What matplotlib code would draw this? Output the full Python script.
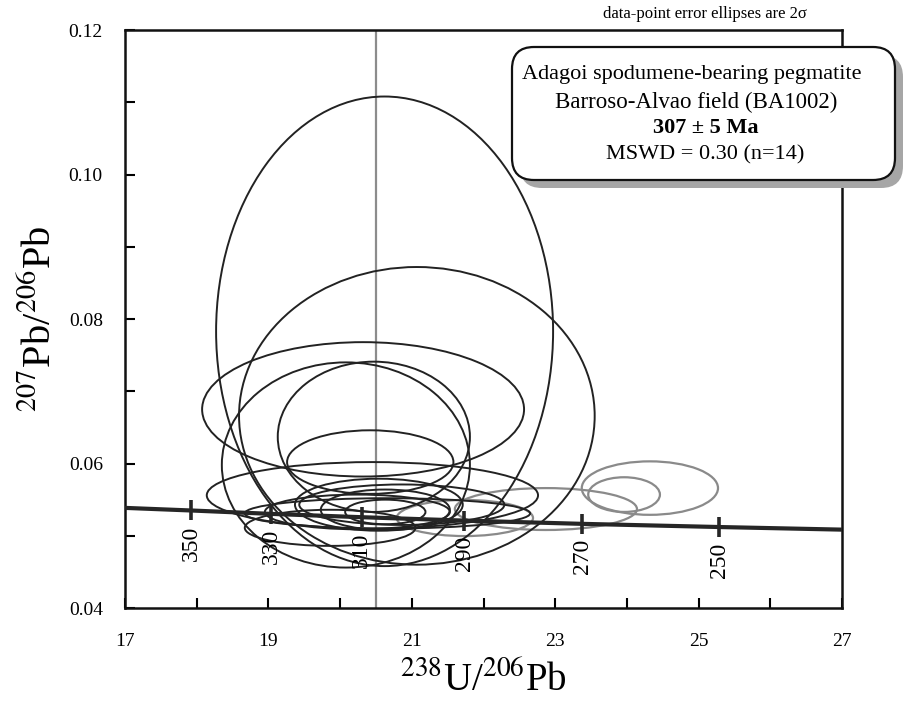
import numpy as np
import matplotlib
matplotlib.use("Agg")
from matplotlib import pyplot as plt
from matplotlib.patches import Ellipse, FancyBboxPatch
from matplotlib.transforms import IdentityTransform

plt.rcParams['font.family'] = ['Liberation Serif', 'DejaVu Serif']
plt.rcParams['mathtext.fontset'] = 'stix'

# error ellipses (centre x, centre y, half width, half height)
dark_cx = [20.62, 21.07, 20.32, 20.08, 20.47, 20.42, 20.45, 20.66, 20.54, 20.63, 20.63, 19.86, 20.86, 20.24]
dark_cy = [0.0783, 0.0666, 0.0675, 0.0598, 0.0637, 0.0602, 0.0556, 0.0531, 0.0543, 0.0536, 0.0533, 0.0511, 0.0543, 0.0533]
dark_hw = [2.35, 2.48, 2.245, 1.73, 1.34, 1.16, 2.31, 1.99, 1.17, 0.90, 0.56, 1.19, 1.43, 1.29]
dark_hh = [0.0325, 0.0206, 0.0093, 0.0142, 0.0104, 0.0044, 0.0046, 0.0021, 0.0036, 0.0028, 0.0017, 0.0025, 0.0028, 0.0024]

grey_cx = [21.74, 22.87, 24.32, 23.96]
grey_cy = [0.05246, 0.0537, 0.0566, 0.0557]
grey_hw = [0.95, 1.27, 0.95, 0.50]
grey_hh = [0.0025, 0.0029, 0.0037, 0.0024]

# concordia and its age marks
conc_x = [17.0, 17.923, 19.039, 20.299, 21.733, 23.379, 25.289, 27.0]
conc_y = [0.05386, 0.05350, 0.05303, 0.05257, 0.05210, 0.05165, 0.05121, 0.05085]
tick_ages = [350, 330, 310, 290, 270, 250]
tick_x = [17.923, 19.039, 20.299, 21.733, 23.379, 25.289]
tick_y = [0.05350, 0.05303, 0.05257, 0.05210, 0.05165, 0.05121]

ref_x = 20.5

fig = plt.figure(figsize=(9.12, 7.07), dpi=100)
ax = fig.add_axes([0.1371, 0.1400, 0.7862, 0.8175])

ax.axvline(ref_x, color='#8c8c8c', lw=1.6, zorder=1)

for cx, cy, hw, hh in zip(dark_cx, dark_cy, dark_hw, dark_hh):
    ax.add_patch(Ellipse((cx, cy), 2 * hw, 2 * hh, fill=False, ec='#222222', lw=1.4, zorder=3))
for cx, cy, hw, hh in zip(grey_cx, grey_cy, grey_hw, grey_hh):
    ax.add_patch(Ellipse((cx, cy), 2 * hw, 2 * hh, fill=False, ec='#8a8a8a', lw=1.6, zorder=2))

ax.plot(conc_x, conc_y, color='#262626', lw=3, zorder=4)
ax.plot(tick_x, tick_y, ls='none', marker='|', ms=15, mew=2.6, color='#262626', zorder=4)
for a, x, y in zip(tick_ages, tick_x, tick_y):
    ax.annotate(str(a), (x, y), xytext=(0, -11), textcoords='offset points',
                rotation=90, ha='center', va='top', fontsize=17)

ax.set_xlim(17, 27)
ax.set_ylim(0.04, 0.12)
ax.set_xticks([17, 19, 21, 23, 25, 27])
ax.set_xticks([18, 20, 22, 24, 26], minor=True)
ax.set_yticks([0.04, 0.06, 0.08, 0.10, 0.12])
ax.set_yticklabels(['0.04', '0.06', '0.08', '0.10', '0.12'])
ax.set_yticks([0.05, 0.07, 0.09, 0.11], minor=True)
ax.tick_params(which='both', direction='in', length=7, width=1.5, labelsize=14)
ax.tick_params(axis='x', pad=18)
ax.tick_params(axis='y', pad=16)
for s in ax.spines.values():
    s.set_linewidth(1.8)
    s.set_color('#111111')

ax.set_xlabel(r'$^{238}$U/$^{206}$Pb', fontsize=28, labelpad=8)
ax.set_ylabel(r'$^{207}$Pb/$^{206}$Pb', fontsize=29, labelpad=6)

fig.text(705 / 912, 1 - 14 / 707, 'data-point error ellipses are 2σ', fontsize=12,
         ha='center', va='center')

# info box with shadow
shadow = FancyBboxPatch((520, 707 - 188), 383, 133, boxstyle='round,pad=0,rounding_size=22',
                        transform=IdentityTransform(), fc='#a6a6a6', ec='none', zorder=10)
box = FancyBboxPatch((512, 707 - 180), 383, 133, boxstyle='round,pad=0,rounding_size=22',
                     transform=IdentityTransform(), fc='white', ec='#111111', lw=1.6, zorder=11)
fig.add_artist(shadow)
fig.add_artist(box)
fig.text(692 / 912, 1 - 75 / 707, 'Adagoi spodumene-bearing pegmatite', fontsize=16,
         ha='center', va='center', zorder=12)
fig.text(696 / 912, 1 - 102 / 707, 'Barroso-Alvao field (BA1002)', fontsize=16.5,
         ha='center', va='center', zorder=12)
fig.text(706 / 912, 1 - 128 / 707, '307 ± 5 Ma', fontsize=16, fontweight='bold',
         ha='center', va='center', zorder=12)
fig.text(705 / 912, 1 - 155 / 707, 'MSWD = 0.30 (n=14)', fontsize=16,
         ha='center', va='center', zorder=12)

fig.savefig('out.png', dpi=100)
